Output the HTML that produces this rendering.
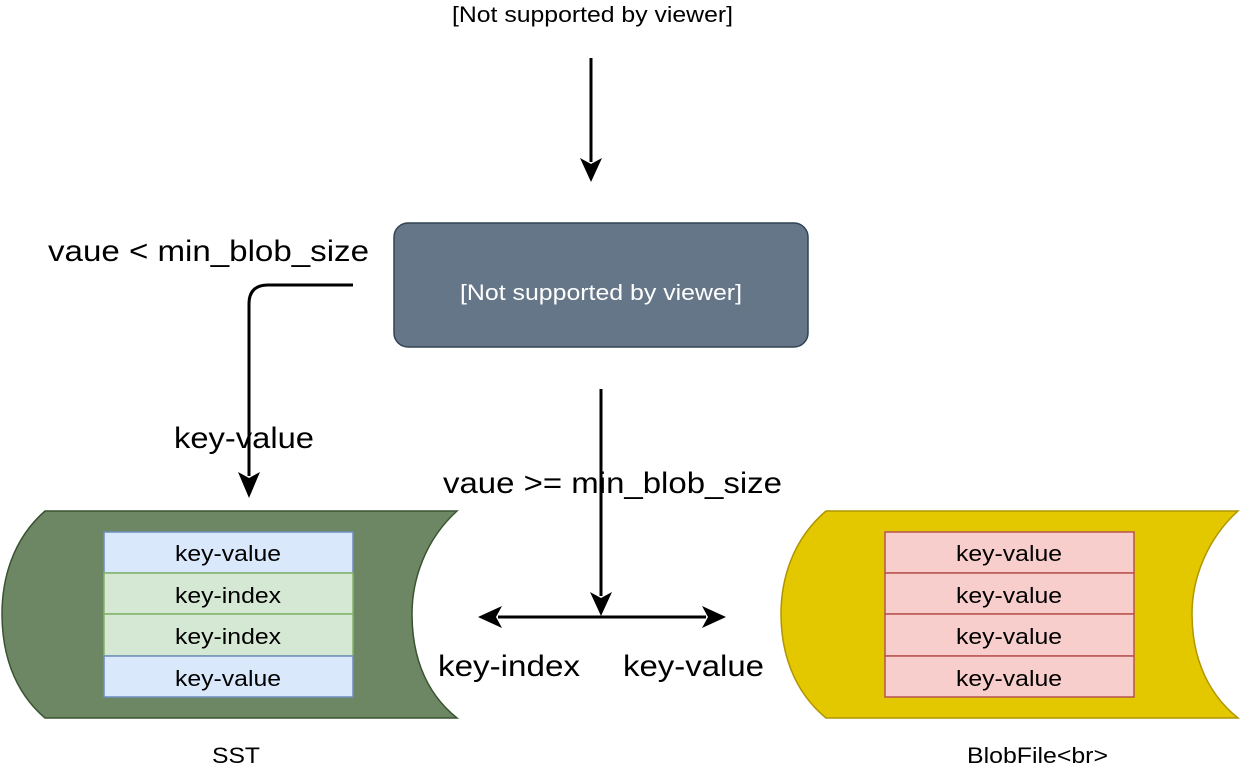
<!DOCTYPE html>
<html><head><style>
html,body{margin:0;padding:0;background:#fff;}
svg{display:block;font-family:"Liberation Sans",Arial,sans-serif;}
</style></head><body>
<svg width="1240" height="777" viewBox="0 0 1240 777" xmlns="http://www.w3.org/2000/svg">
<text x="452" y="22" font-size="22" textLength="281" lengthAdjust="spacingAndGlyphs" fill="#000">[Not supported by viewer]</text>
<line x1="591" y1="58" x2="591" y2="162" stroke="#000" stroke-width="3"/>
<polygon points="580,158 591,182 602,158 591,164" fill="#000"/>
<rect x="394" y="223" width="414" height="124" rx="14" fill="#647687" stroke="#314354" stroke-width="1.5"/>
<text x="460" y="300" font-size="22" textLength="282" lengthAdjust="spacingAndGlyphs" fill="#fff">[Not supported by viewer]</text>
<text x="48" y="261" font-size="30" textLength="321" lengthAdjust="spacingAndGlyphs" fill="#000">vaue &lt; min_blob_size</text>
<path d="M353 285 H268 Q249 285 249 304 V476" fill="none" stroke="#000" stroke-width="3"/>
<polygon points="238,472 249,498 260,472 249,478" fill="#000"/>
<text x="174" y="448" font-size="30" textLength="140" lengthAdjust="spacingAndGlyphs" fill="#000">key-value</text>
<line x1="601" y1="389" x2="601" y2="596" stroke="#000" stroke-width="3"/>
<polygon points="590,592 601,616 612,592 601,598" fill="#000"/>
<line x1="498" y1="617" x2="706" y2="617" stroke="#000" stroke-width="3"/>
<polygon points="502,606 478,617 502,628 496,617" fill="#000"/>
<polygon points="702,606 726,617 702,628 708,617" fill="#000"/>
<text x="443" y="493" font-size="30" textLength="339" lengthAdjust="spacingAndGlyphs" fill="#000">vaue &gt;= min_blob_size</text>
<text x="438" y="676" font-size="30" textLength="142" lengthAdjust="spacingAndGlyphs" fill="#000">key-index</text>
<text x="623" y="676" font-size="30" textLength="141" lengthAdjust="spacingAndGlyphs" fill="#000">key-value</text>
<path d="M45 511 H457 C425 540 412 580 412 614 C412 650 422 690 457 718 H45 C12 690 2 650 2 614 C2 580 12 540 45 511 Z" fill="#6d8764" stroke="#3a5431" stroke-width="1.5"/>
<g font-size="22" fill="#000">
<rect x="104" y="532" width="249" height="41" fill="#dae8fc" stroke="#6c8ebf" stroke-width="1.5"/>
<rect x="104" y="573" width="249" height="41" fill="#d5e8d4" stroke="#82b366" stroke-width="1.5"/>
<rect x="104" y="614" width="249" height="42" fill="#d5e8d4" stroke="#82b366" stroke-width="1.5"/>
<rect x="104" y="656" width="249" height="41" fill="#dae8fc" stroke="#6c8ebf" stroke-width="1.5"/>
<text x="175" y="561" textLength="106" lengthAdjust="spacingAndGlyphs">key-value</text>
<text x="175" y="603" textLength="106" lengthAdjust="spacingAndGlyphs">key-index</text>
<text x="175" y="644" textLength="106" lengthAdjust="spacingAndGlyphs">key-index</text>
<text x="175" y="686" textLength="106" lengthAdjust="spacingAndGlyphs">key-value</text>
</g>
<text x="212" y="763" font-size="22" textLength="48" lengthAdjust="spacingAndGlyphs">SST</text>
<path d="M826 511 H1238 C1206 540 1192 580 1192 614 C1192 650 1203 690 1238 718 H826 C792 690 781 650 781 614 C781 580 792 540 826 511 Z" fill="#e3c800" stroke="#b09500" stroke-width="1.5"/>
<g font-size="22" fill="#000">
<rect x="885" y="532" width="249" height="41" fill="#f8cecc" stroke="#b85450" stroke-width="1.5"/>
<rect x="885" y="573" width="249" height="41" fill="#f8cecc" stroke="#b85450" stroke-width="1.5"/>
<rect x="885" y="614" width="249" height="42" fill="#f8cecc" stroke="#b85450" stroke-width="1.5"/>
<rect x="885" y="656" width="249" height="41" fill="#f8cecc" stroke="#b85450" stroke-width="1.5"/>
<text x="956" y="561" textLength="106" lengthAdjust="spacingAndGlyphs">key-value</text>
<text x="956" y="603" textLength="106" lengthAdjust="spacingAndGlyphs">key-value</text>
<text x="956" y="644" textLength="106" lengthAdjust="spacingAndGlyphs">key-value</text>
<text x="956" y="686" textLength="106" lengthAdjust="spacingAndGlyphs">key-value</text>
</g>
<text x="967" y="763" font-size="22" textLength="141" lengthAdjust="spacingAndGlyphs">BlobFile&lt;br&gt;</text>
</svg>
</body></html>
